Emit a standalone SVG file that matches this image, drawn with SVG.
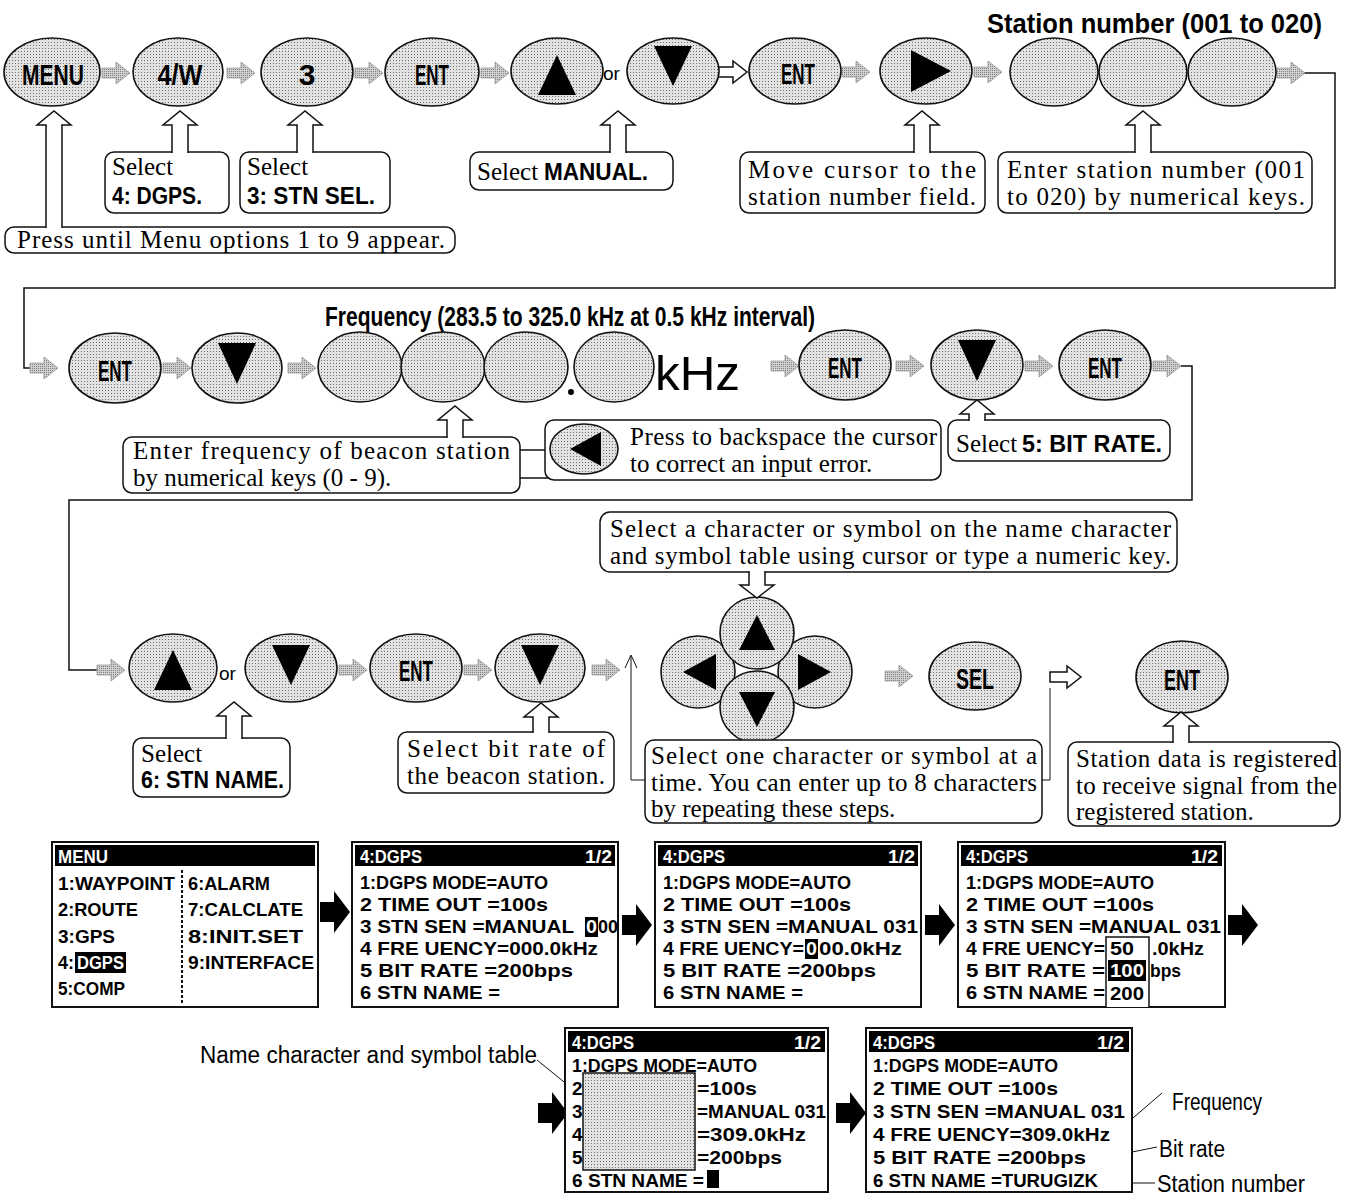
<svg xmlns="http://www.w3.org/2000/svg" xmlns:xlink="http://www.w3.org/1999/xlink" width="1354" height="1198" viewBox="0 0 1354 1198">
<defs>
<pattern id="st" width="3" height="3" patternUnits="userSpaceOnUse"><rect width="3" height="3" fill="#e2e2e2"/><rect width="1" height="1" fill="#6e6e6e"/></pattern>
<pattern id="st2" width="2" height="2" patternUnits="userSpaceOnUse"><rect width="2" height="2" fill="#d0d0d0"/><rect width="1" height="1" fill="#808080"/></pattern>
<path id="ga" d="M0,-5 H14 V-11 L28,0 L14,11 V5 H0 Z" fill="url(#st2)" stroke="#9a9a9a" stroke-width="0.8"/>
<path id="wa" d="M0,-5 H17 V-11 L31,0 L17,11 V5 H0 Z" fill="#fff" stroke="#111" stroke-width="1.5"/>
<path id="ba" d="M0,-10 H14 V-21 L30,0 L14,21 V10 H0 Z" fill="#000"/>
</defs>
<style>
.k{fill:url(#st);stroke:#111;stroke-width:1.6}
.kt{font-family:"Liberation Sans Narrow","Liberation Sans",Arial,sans-serif;font-weight:bold;font-size:30px;text-anchor:middle;fill:#000}
.tri{fill:#000}
.cb{fill:#fff;stroke:#111;stroke-width:1.5}
.ct{font-family:"Liberation Serif","Times New Roman",serif;font-size:25px;fill:#000}
.cbo{font-family:"Liberation Sans Narrow","Liberation Sans",Arial,sans-serif;font-weight:bold;font-size:23px;fill:#000}
.ua{fill:#fff;stroke:#111;stroke-width:1.5}
.ln{fill:none;stroke:#111;stroke-width:1.5}
.tl{fill:none;stroke:#111;stroke-width:1}
.scr{fill:#fff;stroke:#111;stroke-width:2}
.bar{fill:#000}
.s{font-family:"Liberation Sans",Arial,sans-serif;font-weight:bold;font-size:19px;fill:#000}
.sw{font-family:"Liberation Sans",Arial,sans-serif;font-weight:bold;font-size:19px;fill:#fff}
.hd{font-family:"Liberation Sans Narrow","Liberation Sans",Arial,sans-serif;font-weight:bold;font-size:27px;fill:#000}
.lbl{font-family:"Liberation Sans Narrow","Liberation Sans",Arial,sans-serif;font-size:23px;fill:#000}
.or{font-family:"Liberation Sans",Arial,sans-serif;font-size:19px;fill:#000}
</style>
<rect width="1354" height="1198" fill="#fff"/>

<!-- headings -->
<text class="hd" x="987" y="33" textLength="335" lengthAdjust="spacingAndGlyphs">Station number (001 to 020)</text>
<text class="hd" x="325" y="326" textLength="490" lengthAdjust="spacingAndGlyphs">Frequency (283.5 to 325.0 kHz at 0.5 kHz interval)</text>

<!-- connectors -->
<g id="connectors">
<path class="ln" d="M1302,73 H1335 V288 H24 V368 H30"/>
<path class="ln" d="M1181,366 H1192 V500 H69 V670 H97"/>
<path class="tl" d="M645,780 H631 V656"/>
<path class="tl" d="M625,668 L631,655 L637,668"/>
<path class="tl" d="M1042,780 H1050 V688"/>
<path class="ln" d="M520,450 H548 M520,478 H548"/>
<path class="tl" d="M537,1060 L601,1112"/>
<path class="tl" d="M1112,1136 L1162,1093"/>
<path class="tl" d="M1092,1160 L1157,1147"/>
<path class="tl" d="M1098,1183 H1155"/>
<use href="#ga" x="102" y="73"/><use href="#ga" x="227" y="73"/><use href="#ga" x="355" y="73"/><use href="#ga" x="481" y="73"/>
<use href="#wa" x="716" y="72"/>
<use href="#ga" x="842" y="72"/><use href="#ga" x="974" y="72"/><use href="#ga" x="1277" y="73"/>
<use href="#ga" x="30" y="368"/><use href="#ga" x="163" y="368"/><use href="#ga" x="288" y="368"/>
<use href="#ga" x="771" y="366"/><use href="#ga" x="896" y="366"/><use href="#ga" x="1025" y="366"/><use href="#ga" x="1153" y="366"/>
<use href="#ga" x="97" y="670"/><use href="#ga" x="339" y="670"/><use href="#ga" x="464" y="670"/><use href="#ga" x="592" y="670"/>
<use href="#ga" x="885" y="676"/>
<use href="#wa" x="1050" y="677"/>
<use href="#ba" x="320" y="912"/><use href="#ba" x="622" y="925"/><use href="#ba" x="925" y="925"/><use href="#ba" x="1228" y="925"/>
<use href="#ba" x="538" y="1113"/><use href="#ba" x="836" y="1113"/>
</g>

<!-- Row 1 keys -->
<g id="k-menu"><ellipse class="k" cx="52" cy="72" rx="48" ry="34"/><text class="kt" x="53" y="85" textLength="62" lengthAdjust="spacingAndGlyphs">MENU</text></g>
<g id="k-4w"><ellipse class="k" cx="178" cy="72" rx="45" ry="34"/><text class="kt" x="180" y="85" textLength="45" lengthAdjust="spacingAndGlyphs">4/W</text></g>
<g id="k-3"><ellipse class="k" cx="307" cy="72" rx="46" ry="34"/><text class="kt" x="307" y="85">3</text></g>
<g id="k-ent1"><ellipse class="k" cx="432" cy="72" rx="47" ry="34"/><text class="kt" x="432" y="85" textLength="34" lengthAdjust="spacingAndGlyphs">ENT</text></g>
<g id="k-up1"><ellipse class="k" cx="557" cy="71" rx="46" ry="33"/><polygon class="tri" points="557,55 538,95 576,95"/></g>
<text class="or" x="603" y="80">or</text>
<g id="k-down1"><ellipse class="k" cx="673" cy="71" rx="46" ry="33"/><polygon class="tri" points="654,46 692,46 673,86"/></g>
<g id="k-ent2"><ellipse class="k" cx="795" cy="71" rx="46" ry="33"/><text class="kt" x="798" y="84" textLength="34" lengthAdjust="spacingAndGlyphs">ENT</text></g>
<g id="k-right1"><ellipse class="k" cx="926" cy="71" rx="46" ry="33"/><polygon class="tri" points="911,50 951,71 911,92"/></g>
<g id="k-stn1"><ellipse class="k" cx="1054" cy="72" rx="44" ry="34"/></g>
<g id="k-stn2"><ellipse class="k" cx="1143" cy="72" rx="44" ry="34"/></g>
<g id="k-stn3"><ellipse class="k" cx="1232" cy="72" rx="44" ry="34"/></g>

<!-- Row 1 callouts -->
<g id="c-press"><rect class="cb" x="5" y="227" width="450" height="26" rx="9"/><path class="ua" d="M46,228 V125 H37 L54,111 L71,125 H62 V228"/><text class="ct" x="17" y="248" textLength="428">Press until Menu options 1 to 9 appear.</text></g>
<g id="c-dgps"><rect class="cb" x="105" y="152" width="124" height="61" rx="9"/><path class="ua" d="M172,153 V125 H163 L180,111 L197,125 H188 V153"/><text class="ct" x="112" y="175">Select</text><text class="cbo" x="112" y="204" textLength="90" lengthAdjust="spacingAndGlyphs">4: DGPS.</text></g>
<g id="c-stnsel"><rect class="cb" x="240" y="152" width="150" height="61" rx="9"/><path class="ua" d="M297,153 V125 H288 L305,111 L322,125 H313 V153"/><text class="ct" x="247" y="175">Select</text><text class="cbo" x="247" y="204" textLength="128" lengthAdjust="spacingAndGlyphs">3: STN SEL.</text></g>
<g id="c-manual"><rect class="cb" x="470" y="152" width="203" height="38" rx="9"/><path class="ua" d="M610,153 V125 H601 L618,111 L635,125 H626 V153"/><text class="ct" x="477" y="180">Select</text><text class="cbo" x="544" y="180" textLength="104" lengthAdjust="spacingAndGlyphs">MANUAL.</text></g>
<g id="c-move"><rect class="cb" x="740" y="152" width="245" height="61" rx="9"/><path class="ua" d="M914,153 V125 H905 L922,111 L939,125 H930 V153"/><text class="ct" x="748" y="178" textLength="228">Move cursor to the</text><text class="ct" x="748" y="205" textLength="228">station number field.</text></g>
<g id="c-enterstn"><rect class="cb" x="998" y="152" width="314" height="61" rx="9"/><path class="ua" d="M1135,153 V125 H1126 L1143,111 L1160,125 H1151 V153"/><text class="ct" x="1007" y="178" textLength="298">Enter station number (001</text><text class="ct" x="1007" y="205" textLength="298">to 020) by numerical keys.</text></g>

<!-- Row 2 keys -->
<g id="k-ent3"><ellipse class="k" cx="115" cy="368" rx="46" ry="35"/><text class="kt" x="115" y="381" textLength="34" lengthAdjust="spacingAndGlyphs">ENT</text></g>
<g id="k-down2"><ellipse class="k" cx="237" cy="368" rx="45" ry="35"/><polygon class="tri" points="218,343 256,343 237,384"/></g>
<g id="k-f1"><ellipse class="k" cx="360" cy="367" rx="42" ry="35"/></g>
<g id="k-f2"><ellipse class="k" cx="443" cy="367" rx="42" ry="35"/></g>
<g id="k-f3"><ellipse class="k" cx="526" cy="367" rx="42" ry="35"/></g>
<circle cx="571" cy="392" r="3" fill="#000"/>
<g id="k-f4"><ellipse class="k" cx="614" cy="367" rx="40" ry="35"/></g>
<text x="655" y="390" font-family="Liberation Sans, Arial, sans-serif" font-size="48" textLength="85" lengthAdjust="spacingAndGlyphs">kHz</text>
<g id="k-ent4"><ellipse class="k" cx="845" cy="365" rx="46" ry="35"/><text class="kt" x="845" y="378" textLength="34" lengthAdjust="spacingAndGlyphs">ENT</text></g>
<g id="k-down3"><ellipse class="k" cx="977" cy="365" rx="46" ry="35"/><polygon class="tri" points="958,340 996,340 977,381"/></g>
<g id="k-ent5"><ellipse class="k" cx="1105" cy="365" rx="46" ry="35"/><text class="kt" x="1105" y="378" textLength="34" lengthAdjust="spacingAndGlyphs">ENT</text></g>

<!-- Row 2 callouts -->
<g id="c-freq"><rect class="cb" x="123" y="437" width="397" height="56" rx="9"/><path class="ua" d="M447,438 V420 H438 L455,406 L472,420 H463 V438"/><text class="ct" x="133" y="459" textLength="377">Enter frequency of beacon station</text><text class="ct" x="133" y="486">by numerical keys (0 - 9).</text></g>
<g id="c-back"><rect class="cb" x="545" y="420" width="396" height="60" rx="9"/><ellipse class="k" cx="584" cy="449" rx="34" ry="25"/><polygon class="tri" points="601,432 601,466 570,449"/><text class="ct" x="630" y="445" textLength="307">Press to backspace the cursor</text><text class="ct" x="630" y="472">to correct an input error.</text></g>
<g id="c-bitrate"><rect class="cb" x="948" y="420" width="222" height="41" rx="9"/><path class="ua" d="M969,421 V414 H960 L977,400 L994,414 H985 V421"/><text class="ct" x="956" y="452">Select</text><text class="cbo" x="1022" y="452" textLength="140" lengthAdjust="spacingAndGlyphs">5: BIT RATE.</text></g>

<!-- Row 3 keys -->
<g id="k-up3"><ellipse class="k" cx="173" cy="668" rx="44" ry="34"/><polygon class="tri" points="173,650 154,690 192,690"/></g>
<text class="or" x="219" y="680">or</text>
<g id="k-down4"><ellipse class="k" cx="291" cy="668" rx="46" ry="34"/><polygon class="tri" points="272,645 310,645 291,685"/></g>
<g id="k-ent6"><ellipse class="k" cx="416" cy="668" rx="46" ry="34"/><text class="kt" x="416" y="681" textLength="34" lengthAdjust="spacingAndGlyphs">ENT</text></g>
<g id="k-down5"><ellipse class="k" cx="540" cy="668" rx="45" ry="34"/><polygon class="tri" points="521,645 559,645 540,685"/></g>
<g id="k-cross">
<ellipse class="k" cx="698" cy="672" rx="37" ry="36"/><polygon class="tri" points="716,654 716,690 683,672"/>
<ellipse class="k" cx="815" cy="672" rx="37" ry="36"/><polygon class="tri" points="798,654 798,690 831,672"/>
<ellipse class="k" cx="757" cy="633" rx="37" ry="36"/><polygon class="tri" points="757,615 739,650 775,650"/>
<ellipse class="k" cx="757" cy="707" rx="37" ry="36"/><polygon class="tri" points="739,692 775,692 757,727"/>
</g>
<g id="k-sel"><ellipse class="k" cx="975" cy="676" rx="46" ry="34"/><text class="kt" x="975" y="689" textLength="38" lengthAdjust="spacingAndGlyphs">SEL</text></g>
<g id="k-ent7"><ellipse class="k" cx="1182" cy="677" rx="46" ry="36"/><text class="kt" x="1182" y="690" textLength="36" lengthAdjust="spacingAndGlyphs">ENT</text></g>

<!-- Row 3 callouts -->
<g id="c-table"><rect class="cb" x="600" y="512" width="577" height="60" rx="10"/><path class="ua" d="M749,571 V585 H740 L757,598 L774,585 H765 V571"/><text class="ct" x="610" y="537" textLength="561">Select a character or symbol on the name character</text><text class="ct" x="610" y="564" textLength="561">and symbol table using cursor or type a numeric key.</text></g>
<g id="c-stnname"><rect class="cb" x="133" y="738" width="157" height="59" rx="9"/><path class="ua" d="M226,739 V716 H217 L234,702 L251,716 H242 V739"/><text class="ct" x="141" y="762">Select</text><text class="cbo" x="141" y="788" textLength="143" lengthAdjust="spacingAndGlyphs">6: STN NAME.</text></g>
<g id="c-selbit"><rect class="cb" x="398" y="732" width="216" height="61" rx="9"/><path class="ua" d="M533,733 V717 H524 L541,703 L558,717 H549 V733"/><text class="ct" x="407" y="757" textLength="198">Select bit rate of</text><text class="ct" x="407" y="784" textLength="198">the beacon station.</text></g>
<g id="c-selone"><rect class="cb" x="645" y="740" width="397" height="83" rx="9"/><text class="ct" x="651" y="764" textLength="386">Select one character or symbol at a</text><text class="ct" x="651" y="791" textLength="386">time.  You can enter up to 8 characters</text><text class="ct" x="651" y="817">by repeating these steps.</text></g>
<g id="c-registered"><rect class="cb" x="1068" y="742" width="272" height="84" rx="9"/><path class="ua" d="M1173,743 V726 H1164 L1181,712 L1198,726 H1189 V743"/><text class="ct" x="1076" y="767" textLength="261">Station data is registered</text><text class="ct" x="1076" y="794" textLength="261">to receive signal from the</text><text class="ct" x="1076" y="820">registered station.</text></g>

<!-- Screens -->
<g id="scr-menu">
<rect class="scr" x="52" y="842" width="266" height="165"/>
<rect class="bar" x="55" y="845" width="260" height="21"/>
<text class="sw" x="58" y="863" textLength="50" lengthAdjust="spacingAndGlyphs">MENU</text>
<text class="s" x="58" y="890" textLength="117" lengthAdjust="spacingAndGlyphs">1:WAYPOINT</text>
<text class="s" x="58" y="916" textLength="80" lengthAdjust="spacingAndGlyphs">2:ROUTE</text>
<text class="s" x="58" y="943" textLength="57" lengthAdjust="spacingAndGlyphs">3:GPS</text>
<text class="s" x="58" y="969" textLength="16" lengthAdjust="spacingAndGlyphs">4:</text>
<rect class="bar" x="75" y="952" width="51" height="21"/>
<text class="sw" x="77" y="969" textLength="47" lengthAdjust="spacingAndGlyphs">DGPS</text>
<text class="s" x="58" y="995" textLength="67" lengthAdjust="spacingAndGlyphs">5:COMP</text>
<path d="M182,870 V1004" stroke="#111" stroke-width="2" stroke-dasharray="3,2"/>
<text class="s" x="188" y="890" textLength="82" lengthAdjust="spacingAndGlyphs">6:ALARM</text>
<text class="s" x="188" y="916" textLength="115" lengthAdjust="spacingAndGlyphs">7:CALCLATE</text>
<text class="s" x="188" y="943" textLength="115" lengthAdjust="spacingAndGlyphs">8:INIT.SET</text>
<text class="s" x="188" y="969" textLength="126" lengthAdjust="spacingAndGlyphs">9:INTERFACE</text>
</g>

<g id="scr-dgps1">
<rect class="scr" x="352" y="842" width="266" height="165"/>
<rect class="bar" x="355" y="845" width="260" height="21"/>
<text class="sw" x="360" y="863" textLength="62" lengthAdjust="spacingAndGlyphs">4:DGPS</text>
<text class="sw" x="585" y="863" textLength="27" lengthAdjust="spacingAndGlyphs">1/2</text>
<text class="s" x="360" y="889" textLength="188" lengthAdjust="spacingAndGlyphs">1:DGPS MODE=AUTO</text>
<text class="s" x="360" y="911" textLength="188" lengthAdjust="spacingAndGlyphs">2 TIME OUT =100s</text>
<text class="s" x="360" y="933" textLength="214" lengthAdjust="spacingAndGlyphs">3 STN SEN  =MANUAL</text>
<rect class="bar" x="585" y="917" width="13" height="20"/>
<text class="sw" x="586" y="933" textLength="11" lengthAdjust="spacingAndGlyphs">0</text>
<text class="s" x="598" y="933" textLength="20" lengthAdjust="spacingAndGlyphs">00</text>
<text class="s" x="360" y="955" textLength="238" lengthAdjust="spacingAndGlyphs">4 FRE UENCY=000.0kHz</text>
<text class="s" x="360" y="977" textLength="213" lengthAdjust="spacingAndGlyphs">5 BIT RATE =200bps</text>
<text class="s" x="360" y="999" textLength="140" lengthAdjust="spacingAndGlyphs">6 STN NAME =</text>
</g>

<g id="scr-dgps2">
<rect class="scr" x="655" y="842" width="266" height="165"/>
<rect class="bar" x="658" y="845" width="260" height="21"/>
<text class="sw" x="663" y="863" textLength="62" lengthAdjust="spacingAndGlyphs">4:DGPS</text>
<text class="sw" x="888" y="863" textLength="27" lengthAdjust="spacingAndGlyphs">1/2</text>
<text class="s" x="663" y="889" textLength="188" lengthAdjust="spacingAndGlyphs">1:DGPS MODE=AUTO</text>
<text class="s" x="663" y="911" textLength="188" lengthAdjust="spacingAndGlyphs">2 TIME OUT =100s</text>
<text class="s" x="663" y="933" textLength="255" lengthAdjust="spacingAndGlyphs">3 STN SEN  =MANUAL 031</text>
<text class="s" x="663" y="955" textLength="141" lengthAdjust="spacingAndGlyphs">4 FRE UENCY=</text>
<rect class="bar" x="805" y="939" width="13" height="20"/>
<text class="sw" x="806" y="955" textLength="11" lengthAdjust="spacingAndGlyphs">0</text>
<text class="s" x="819" y="955" textLength="83" lengthAdjust="spacingAndGlyphs">00.0kHz</text>
<text class="s" x="663" y="977" textLength="213" lengthAdjust="spacingAndGlyphs">5 BIT RATE =200bps</text>
<text class="s" x="663" y="999" textLength="140" lengthAdjust="spacingAndGlyphs">6 STN NAME =</text>
</g>

<g id="scr-dgps3">
<rect class="scr" x="958" y="842" width="267" height="165"/>
<rect class="bar" x="961" y="845" width="261" height="21"/>
<text class="sw" x="966" y="863" textLength="62" lengthAdjust="spacingAndGlyphs">4:DGPS</text>
<text class="sw" x="1191" y="863" textLength="27" lengthAdjust="spacingAndGlyphs">1/2</text>
<text class="s" x="966" y="889" textLength="188" lengthAdjust="spacingAndGlyphs">1:DGPS MODE=AUTO</text>
<text class="s" x="966" y="911" textLength="188" lengthAdjust="spacingAndGlyphs">2 TIME OUT =100s</text>
<text class="s" x="966" y="933" textLength="255" lengthAdjust="spacingAndGlyphs">3 STN SEN  =MANUAL 031</text>
<text class="s" x="966" y="955" textLength="139" lengthAdjust="spacingAndGlyphs">4 FRE UENCY=</text>
<text class="s" x="1152" y="955" textLength="52" lengthAdjust="spacingAndGlyphs">.0kHz</text>
<text class="s" x="966" y="977" textLength="139" lengthAdjust="spacingAndGlyphs">5 BIT RATE =</text>
<text class="s" x="1150" y="977" textLength="31" lengthAdjust="spacingAndGlyphs">bps</text>
<text class="s" x="966" y="999" textLength="139" lengthAdjust="spacingAndGlyphs">6 STN NAME =</text>
<path d="M1106,1007 V937 H1149 V1007" fill="#fff" stroke="#111" stroke-width="1.5"/>
<text class="s" x="1110" y="955" textLength="24" lengthAdjust="spacingAndGlyphs">50</text>
<rect class="bar" x="1108" y="960" width="38" height="21"/>
<text class="sw" x="1110" y="977" textLength="34" lengthAdjust="spacingAndGlyphs">100</text>
<text class="s" x="1110" y="1000" textLength="34" lengthAdjust="spacingAndGlyphs">200</text>
</g>

<g id="scr-table">
<rect class="scr" x="565" y="1028" width="263" height="164"/>
<rect class="bar" x="568" y="1031" width="257" height="21"/>
<text class="sw" x="572" y="1049" textLength="62" lengthAdjust="spacingAndGlyphs">4:DGPS</text>
<text class="sw" x="794" y="1049" textLength="27" lengthAdjust="spacingAndGlyphs">1/2</text>
<text class="s" x="572" y="1072" textLength="185" lengthAdjust="spacingAndGlyphs">1:DGPS MODE=AUTO</text>
<text class="s" x="572" y="1095">2</text><text class="s" x="697" y="1095" textLength="60" lengthAdjust="spacingAndGlyphs">=100s</text>
<text class="s" x="572" y="1118">3</text><text class="s" x="697" y="1118" textLength="129" lengthAdjust="spacingAndGlyphs">=MANUAL 031</text>
<text class="s" x="572" y="1141">4</text><text class="s" x="697" y="1141" textLength="109" lengthAdjust="spacingAndGlyphs">=309.0kHz</text>
<text class="s" x="572" y="1164">5</text><text class="s" x="697" y="1164" textLength="85" lengthAdjust="spacingAndGlyphs">=200bps</text>
<text class="s" x="572" y="1187" textLength="132" lengthAdjust="spacingAndGlyphs">6 STN NAME =</text>
<rect class="bar" x="707" y="1170" width="12" height="18"/>
<rect x="583" y="1073" width="112" height="97" fill="url(#st)" stroke="#111" stroke-width="1.5"/>
</g>

<g id="scr-final">
<rect class="scr" x="866" y="1028" width="266" height="164"/>
<rect class="bar" x="869" y="1031" width="260" height="21"/>
<text class="sw" x="873" y="1049" textLength="62" lengthAdjust="spacingAndGlyphs">4:DGPS</text>
<text class="sw" x="1097" y="1049" textLength="27" lengthAdjust="spacingAndGlyphs">1/2</text>
<text class="s" x="873" y="1072" textLength="185" lengthAdjust="spacingAndGlyphs">1:DGPS MODE=AUTO</text>
<text class="s" x="873" y="1095" textLength="185" lengthAdjust="spacingAndGlyphs">2 TIME OUT =100s</text>
<text class="s" x="873" y="1118" textLength="252" lengthAdjust="spacingAndGlyphs">3 STN SEN  =MANUAL 031</text>
<text class="s" x="873" y="1141" textLength="237" lengthAdjust="spacingAndGlyphs">4 FRE UENCY=309.0kHz</text>
<text class="s" x="873" y="1164" textLength="213" lengthAdjust="spacingAndGlyphs">5 BIT RATE =200bps</text>
<text class="s" x="873" y="1187" textLength="225" lengthAdjust="spacingAndGlyphs">6 STN NAME =TURUGIZK</text>
</g>

<g id="labels">
<text class="lbl" x="200" y="1063" textLength="337" lengthAdjust="spacingAndGlyphs">Name character and symbol table</text>
<text class="lbl" x="1172" y="1110" textLength="90" lengthAdjust="spacingAndGlyphs">Frequency</text>
<text class="lbl" x="1159" y="1157" textLength="66" lengthAdjust="spacingAndGlyphs">Bit rate</text>
<text class="lbl" x="1157" y="1192" textLength="148" lengthAdjust="spacingAndGlyphs">Station number</text>
</g>
</svg>
